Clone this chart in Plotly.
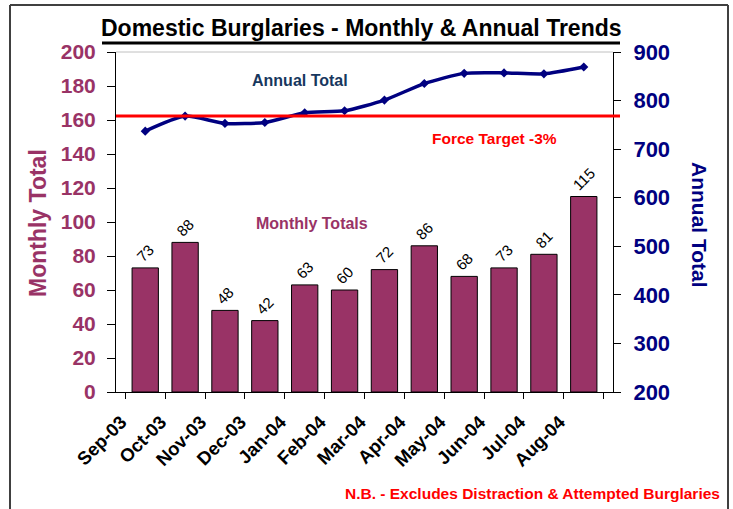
import plotly.graph_objects as go

months = ["Sep-03", "Oct-03", "Nov-03", "Dec-03", "Jan-04", "Feb-04",
          "Mar-04", "Apr-04", "May-04", "Jun-04", "Jul-04", "Aug-04"]
monthly_totals = [73, 88, 48, 42, 63, 60, 72, 86, 68, 73, 81, 115]
annual_totals = [737, 768, 753, 755, 775, 779, 801, 835, 856, 857, 855, 869]
force_target = 768

PLUM = "#993366"
NAVY = "#000080"
FONT = "Arial, Liberation Sans, sans-serif"

W, H = 733, 509
L, R, T, B = 116, 120, 52, 117
PW, PH = W - L - R, H - T - B


def px(x):
    return (x - L) / PW


def py(y):
    return (H - B - y) / PH


fig = go.Figure()
fig.add_trace(go.Bar(
    x=months, y=monthly_totals, marker=dict(color=PLUM, line=dict(color="black", width=1)),
    text=[str(v) for v in monthly_totals], textposition="outside", textangle=-45,
    textfont=dict(family=FONT, size=15, color="black"), cliponaxis=False,
    yaxis="y", name="Monthly Totals", showlegend=False))
fig.add_trace(go.Scatter(
    x=months, y=annual_totals, mode="lines+markers",
    line=dict(color=NAVY, width=3.5, shape="spline", smoothing=0.6),
    marker=dict(symbol="diamond", size=7, color=NAVY), yaxis="y2", name="Annual Total", showlegend=False))

fig.update_layout(
    width=W, height=H, margin=dict(l=L, r=R, t=T, b=B),
    paper_bgcolor="white", plot_bgcolor="white", bargap=0.34,
    font=dict(family=FONT, color="black"),
    xaxis=dict(type="category", tickangle=-45, tickson="boundaries", ticks="outside", ticklen=6,
               tickcolor="black", showline=True, linecolor="black", linewidth=1, showgrid=False,
               automargin=False, ticklabelshift=-24, ticklabelstandoff=11,
               tickfont=dict(family=FONT, size=18.5, color="black", weight="bold")),
    yaxis=dict(range=[0, 200], dtick=20, ticks="outside", ticklen=8, tickcolor="black",
               showline=True, linecolor="black", linewidth=1, showgrid=False, zeroline=False,
               automargin=False, ticklabelstandoff=7,
               tickfont=dict(family=FONT, size=21, color=PLUM, weight="bold")),
    yaxis2=dict(range=[200, 900], dtick=100, overlaying="y", side="right", ticks="outside", ticklen=7,
                tickcolor="black", showline=True, linecolor="black", linewidth=1, showgrid=False,
                zeroline=False, automargin=False, ticklabelstandoff=8,
                tickfont=dict(family=FONT, size=22, color=NAVY, weight="bold")),
)

shapes = [
    dict(type="line", xref="paper", yref="y2", x0=0, x1=px(620), y0=force_target, y1=force_target,
         line=dict(color="#FF0000", width=3)),
    dict(type="line", xref="paper", yref="paper", x0=0, x1=1, y0=1, y1=1, line=dict(color="#C0C0C0", width=1)),
    # title underline
    dict(type="line", xref="paper", yref="paper", x0=px(102), x1=px(620), y0=py(43), y1=py(43),
         line=dict(color="black", width=3)),
    # outer frame
    dict(type="line", xref="paper", yref="paper", x0=px(10), x1=px(10), y0=py(5), y1=py(520),
         line=dict(color="#404040", width=2)),
    dict(type="line", xref="paper", yref="paper", x0=px(728), x1=px(728), y0=py(5), y1=py(520),
         line=dict(color="#404040", width=2)),
    dict(type="line", xref="paper", yref="paper", x0=px(10), x1=px(728), y0=py(5), y1=py(5),
         line=dict(color="#404040", width=2)),
]
fig.update_layout(shapes=shapes)

ann = [
    dict(text="<b>Domestic Burglaries - Monthly & Annual Trends</b>", x=px(361), y=py(28),
         font=dict(size=23, color="black")),
    dict(text="<b>Monthly Total</b>", x=px(38), y=py(223), textangle=-90, font=dict(size=23, color=PLUM)),
    dict(text="<b>Annual Total</b>", x=px(700), y=py(225), textangle=90, font=dict(size=21, color=NAVY)),
    dict(text="<b>Annual Total</b>", x=px(300), y=py(80), font=dict(size=16, color="#17375E")),
    dict(text="<b>Force Target -3%</b>", x=px(494), y=py(138), font=dict(size=15.5, color="#FF0000")),
    dict(text="<b>Monthly Totals</b>", x=px(312), y=py(223), font=dict(size=16, color=PLUM)),
    dict(text="<b>N.B. - Excludes Distraction & Attempted Burglaries</b>", x=px(532), y=py(493),
         font=dict(size=15.5, color="#FF0000")),
]
for a in ann:
    a.update(xref="paper", yref="paper", showarrow=False, xanchor="center", yanchor="middle")
    a["font"]["family"] = FONT
fig.update_layout(annotations=ann)

fig.write_html("out.html", config={"displayModeBar": False},
               post_script="document.body.style.margin='0';document.body.style.overflow='hidden';")
